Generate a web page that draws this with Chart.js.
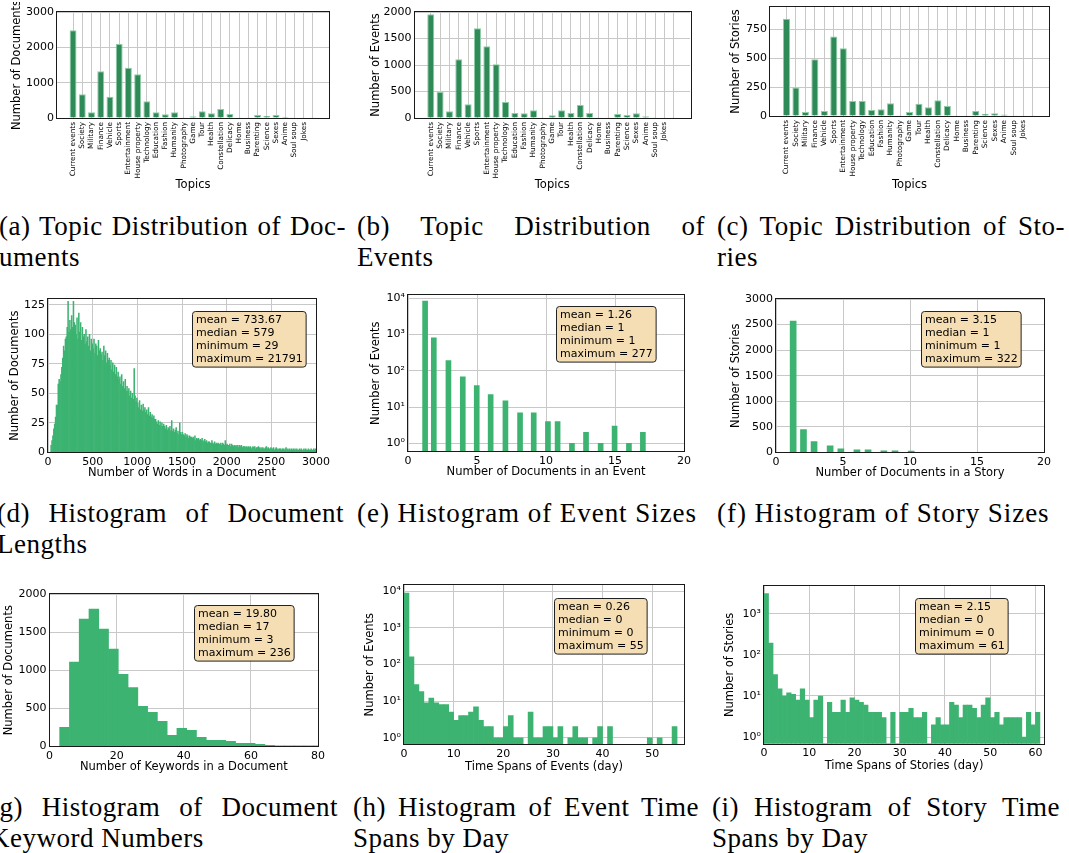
<!DOCTYPE html>
<html>
<head>
<meta charset="utf-8">
<script src="https://cdn.jsdelivr.net/npm/chart.js"></script>
<style>
  body { margin: 0; background: #fff; }
  #page { position: relative; width: 1069px; height: 853px; overflow: hidden; background: #fff; }
  canvas { position: absolute; }
  .cap { position: absolute; font-family: 'Liberation Serif', serif; font-size: 27px; letter-spacing: 0.5px; line-height: 31px; color: #000; }
  .cap .j { text-align: justify; text-align-last: justify; }
  .cap .l { white-space: nowrap; }
  .cap .wide { letter-spacing: 0.95px; }
</style>
</head>
<body>
<div id="page">
  <div class="cap" style="left:-1px; top:211px; width:347px"><div class="j">(a) Topic Distribution of Doc-</div><div class="l">uments</div></div>
  <div class="cap" style="left:357px; top:211px; width:348px"><div class="j">(b) Topic Distribution of</div><div class="l">Events</div></div>
  <div class="cap" style="left:717px; top:211px; width:348px"><div class="j">(c) Topic Distribution of Sto-</div><div class="l">ries</div></div>

  <div class="cap" style="left:-3px; top:498px; width:347px"><div class="j">(d) Histogram of Document</div><div class="l">Lengths</div></div>
  <div class="cap" style="left:357px; top:498px"><div class="l wide">(e) Histogram of Event Sizes</div></div>
  <div class="cap" style="left:717px; top:498px"><div class="l wide">(f) Histogram of Story Sizes</div></div>

  <div class="cap" style="left:-10px; top:792px; width:348px"><div class="j">(g) Histogram of Document</div><div class="l">Keyword Numbers</div></div>
  <div class="cap" style="left:353px; top:792px; width:346px"><div class="j">(h) Histogram of Event Time</div><div class="l">Spans by Day</div></div>
  <div class="cap" style="left:712px; top:792px; width:348px"><div class="j">(i) Histogram of Story Time</div><div class="l">Spans by Day</div></div>
</div>

<script>
// ---- data ----
const topics = ['Current events', 'Society', 'Military', 'Finance', 'Vehicle', 'Sports', 'Entertainment', 'House property',
    'Technology', 'Education', 'Fashion', 'Humanity', 'Photography', 'Game', 'Tour', 'Health', 'Constellation',
    'Delicacy', 'Home', 'Business', 'Parenting', 'Science', 'Sexes', 'Anime', 'Soul soup', 'Jokes', '']
const docsPerTopic = [2481, 670, 160, 1321, 604, 2094, 1425, 1236, 472, 160, 104, 160, 9, 47, 189, 132, 255, 113, 9, 9, 85, 66, 85, 38, 9, 19, 9]
const eventsPerTopic = [1956, 490, 126, 1107, 258, 1692, 1352, 1013, 302, 94, 88, 145, 6, 50, 145, 94, 245, 94, 6, 6, 75, 57, 88, 31, 6, 6, 6]
const storiesPerTopic = [845, 248, 35, 493, 43, 689, 588, 130, 130, 52, 58, 110, 6, 35, 107, 75, 136, 87, 6, 6, 43, 20, 23, 12, 6, 6, 6]

// document lengths, bins of 10 words starting at 30
const wordBinStart = 30
const wordBinWidth = 10
const wordCounts = [
    6, 10, 14, 20, 24, 30, 40,
    40, 58, 62, 60, 66, 72, 80, 90, 86, 96,
    98, 106, 128, 102, 112, 104, 116, 106, 128, 110,
    108, 100, 114, 96, 118, 102, 110, 95, 106, 98,
    100, 92, 104, 94, 98, 90, 100, 86, 96, 92,
    88, 96, 84, 92, 90, 82, 95, 86, 88, 83,
    85, 78, 90, 82, 86, 76, 84, 78, 80, 74,
    78, 70, 76, 68, 74, 66, 72, 64, 68, 62,
    64, 58, 66, 56, 60, 54, 62, 52, 56, 52,
    54, 48, 52, 46, 50, 45, 71, 48, 43, 46,
    42, 38, 44, 36, 40, 35, 41, 36, 38, 34,
    36, 32, 38, 31, 34, 30, 32, 29, 31, 28,
    28, 26, 24, 27, 23, 26, 22, 25, 22, 24,
    22, 20, 23, 19, 21, 20, 22, 18, 27, 18,
    20, 17, 19, 21, 16, 18, 15, 25, 17, 15,
    17, 15, 14, 16, 13, 15, 14, 12, 14, 13,
    13, 12, 13, 11, 14, 10, 12, 11, 12, 10,
    11, 10, 12, 10, 9, 11, 9, 10, 8, 9,
    9, 8, 8, 10, 8, 7, 9, 7, 8, 7,
    8, 7, 7, 8, 6, 8, 7, 6, 10, 6,
    7, 6, 6, 7, 5, 7, 6, 5, 6, 5,
    6, 5, 6, 4, 6, 5, 6, 4, 5, 5,
    5, 4, 5, 4, 5, 4, 5, 3, 4, 5,
    4, 5, 3, 4, 4, 5, 4, 3, 4, 3,
    4, 3, 3, 4, 5, 3, 4, 3, 3, 4,
    3, 3, 4, 2, 3, 4, 3, 2, 3, 3,
    3, 2, 3, 3, 2, 3, 4, 2, 3, 2,
    3, 2, 3, 2, 3, 2, 3, 2, 3, 2,
    2, 3, 2, 3, 2, 2, 3, 2, 3, 2,
    2, 3, 2, 2, 3, 2, 2, 3, 2, 3
]

// event sizes (bar centres as drawn) and counts
const eventSizeX = [1.24, 1.87, 2.93, 3.97, 4.98, 5.99, 7.06, 8.12, 9.11, 10.14, 10.84, 11.88, 12.90, 13.96, 14.97, 16.01, 17.02]
const eventSizeCounts = [8450, 810, 192, 68, 39, 22, 15, 7, 7, 4, 4, 1, 2, 1, 3, 1, 2]

// story sizes
const storySizeX = [1.28, 2.05, 2.84, 4.04, 4.84, 6.04, 6.87, 8.05, 8.88, 10.09]
const storySizeCounts = [2570, 445, 210, 130, 72, 50, 48, 30, 30, 28]

// keywords per document, 80 bins over [3, 236]
const kwBinStart = 3
const kwBinWidth = 2.9125
const kwCounts = [250, 1105, 1671, 1803, 1539, 1276, 947, 772, 526, 447, 329, 145, 237, 211, 118, 79, 79, 66, 39, 39, 26, 13, 5, 3, 2, 1, 1]

// time spans in days, 1-day bins from 0
const eventSpanCounts = [8800, 160, 28, 18, 9, 12, 9, 8, 8, 5, 3, 4, 4, 5, 7, 3, 2, 2, 1, 1,
    2, 4, 1, 1, 0, 5, 1, 1, 2, 2, 1, 2, 0, 1, 2, 1, 1, 0, 1, 2,
    0, 2, 0, 0, 0, 0, 0, 0, 0, 1, 0, 1, 0, 0, 2]
const storySpanCounts = [3100, 195, 33, 15, 10, 12, 11, 8, 15, 8, 3, 8, 10, 0, 7, 4, 4, 8, 4, 9,
    8, 7, 6, 4, 4, 4, 3, 0, 4, 0, 4, 4, 5, 3, 3, 4, 0, 2, 3, 2,
    2, 7, 6, 3, 6, 6, 5, 3, 6, 9, 3, 4, 2, 3, 3, 3, 3, 1, 4, 2, 4]

// tick positions and labels
const logTicks = [1, 10, 100, 1000, 10000]
const logLabels = ['10⁰', '10¹', '10²', '10³', '10⁴']
const docTopicTicks = [0, 1000, 2000, 3000]
const eventTopicTicks = [0, 500, 1000, 1500, 2000]
const storyTopicTicks = [0, 250, 500, 750]
const wordTicks = [0, 500, 1000, 1500, 2000, 2500, 3000]
const docLenTicks = [0, 25, 50, 75, 100, 125]
const sizeTicks = [0, 5, 10, 15, 20]
const storySizeTicks = [0, 500, 1000, 1500, 2000, 2500, 3000]
const kwTicks = [0, 20, 40, 60, 80]
const kwDocTicks = [0, 500, 1000, 1500, 2000]
const eventDayTicks = [0, 10, 20, 30, 40, 50]
const storyDayTicks = [0, 10, 20, 30, 40, 50, 60]

const docLenStats = ['mean = 733.67', 'median = 579', 'minimum = 29', 'maximum = 21791']
const eventSizeStats = ['mean = 1.26', 'median = 1', 'minimum = 1', 'maximum = 277']
const storySizeStats = ['mean = 3.15', 'median = 1', 'minimum = 1', 'maximum = 322']
const keywordStats = ['mean = 19.80', 'median = 17', 'minimum = 3', 'maximum = 236']
const eventSpanStats = ['mean = 0.26', 'median = 0', 'minimum = 0', 'maximum = 55']
const storySpanStats = ['mean = 2.15', 'median = 0', 'minimum = 0', 'maximum = 61']


// ---- layout: plot area of each panel on the page ----
const PAD_T = 10
const PAD_R = 22
const panels = {
    a: { L: 57, T: 12, R: 329, B: 118, yw: 47, xh: 74 },
    b: { L: 414, T: 12, R: 689, B: 118, yw: 45.5, xh: 74 },
    c: { L: 770, T: 7, R: 1049, B: 116, yw: 41, xh: 76 },
    d: { L: 48, T: 299, R: 316, B: 452, yw: 40, xh: 27.6, bx: 144.4, by: 12.4 },
    e: { L: 408, T: 295, R: 684, B: 451, yw: 39, xh: 27.6, bx: 148, by: 11 },
    f: { L: 776, T: 299, R: 1044, B: 452, yw: 47, xh: 27.6, bx: 144.7, by: 12.4 },
    g: { L: 50, T: 594, R: 318, B: 746, yw: 47.6, xh: 27.6, bx: 144.3, by: 11.3 },
    h: { L: 404, T: 585, R: 684, B: 744, yw: 41, xh: 29.6, bx: 150.3, by: 13.3 },
    i: { L: 764, T: 586, R: 1044, B: 744, yw: 41, xh: 29.3, bx: 151, by: 11.6 }
}

const FONT = 'DejaVu Sans'
const GRID = '#c8c8c8'
const TOPIC_GREEN = '#2e8b57'
const HIST_GREEN = '#3cb371'
const tickFont = { family: FONT, size: 11 }
const titleFont = { family: FONT, size: 11.5 }


// black frame round the plot area (all four spines)
const frame = {
    id: 'frame',
    afterDatasetsDraw(chart) {
        const { ctx, chartArea: a } = chart
        ctx.save()
        ctx.strokeStyle = '#1a1a1a'
        ctx.lineWidth = 1
        ctx.strokeRect(Math.round(a.left) - 0.5, Math.round(a.top) - 0.5, Math.round(a.right - a.left) + 1, Math.round(a.bottom - a.top) + 1)
        ctx.restore()
    }
}

// wheat coloured box with the summary numbers
const statBox = {
    id: 'statBox',
    afterDraw(chart, args, opts) {
        if (!opts.lines) return
        const { ctx, chartArea: a } = chart
        ctx.save()
        ctx.font = '11px "DejaVu Sans"'
        const lh = 12.9, padX = 3.5, padY = 2
        const w = Math.max(...opts.lines.map(t => ctx.measureText(t).width)) + 2 * padX
        const h = opts.lines.length * lh + 2 * padY
        const x = Math.round(a.left + opts.dx) + 0.5
        const y = Math.round(a.top + opts.dy) + 0.5
        ctx.beginPath()
        ctx.roundRect(x, y, w, h, 3)
        ctx.fillStyle = '#f5deb3'
        ctx.fill()
        ctx.strokeStyle = '#222'
        ctx.lineWidth = 1
        ctx.stroke()
        ctx.fillStyle = '#000'
        ctx.textBaseline = 'middle'
        opts.lines.forEach((t, i) => ctx.fillText(t, x + padX, y + padY + lh * (i + 0.5)))
        ctx.restore()
    }
}


const placeCanvas = (p) => {
    const c = document.createElement('canvas')
    const w = Math.round(p.yw + (p.R - p.L) + PAD_R)
    const h = Math.round(PAD_T + (p.B - p.T) + p.xh)
    c.width = w
    c.height = h
    c.style.left = (p.L - p.yw) + 'px'
    c.style.top = (p.T - PAD_T) + 'px'
    c.style.width = w + 'px'
    c.style.height = h + 'px'
    document.getElementById('page').appendChild(c)
    return c
}

const xAxis = (p, o) => ({
    type: 'linear',
    min: o.min,
    max: o.max,
    offset: false,
    grid: { color: GRID, drawTicks: false, offset: false },
    border: { display: false },
    ticks: {
        font: o.font || tickFont, color: '#000', padding: o.pad || 3,
        autoSkip: false, maxRotation: o.rot || 0, minRotation: o.rot || 0,
        callback: o.cb || (v => String(v))
    },
    title: { display: true, text: o.title, font: titleFont, color: '#000', padding: 0 },
    afterBuildTicks: s => { s.ticks = o.at.map(v => ({ value: v })) },
    afterFit: s => { s.height = p.xh }
})

const yAxis = (p, o) => ({
    type: o.log ? 'logarithmic' : 'linear',
    min: o.min,
    max: o.max,
    grid: { color: GRID, drawTicks: false },
    border: { display: false },
    ticks: {
        font: tickFont, color: '#000', padding: 3,
        callback: o.log ? (v => logLabels[logTicks.indexOf(v)]) : (v => String(v))
    },
    title: { display: true, text: o.title, font: titleFont, color: '#000', padding: 0 },
    afterBuildTicks: s => { s.ticks = o.at.filter(v => v >= s.min && v <= s.max).map(v => ({ value: v })) },
    afterFit: s => { s.width = p.yw }
})

const drawPanel = (p, dataset, x, y, stats) => {
    new Chart(placeCanvas(p), {
        type: 'bar',
        data: { datasets: [dataset] },
        options: {
            responsive: false,
            animation: false,
            devicePixelRatio: 1,
            layout: { padding: { left: 0, top: PAD_T, right: PAD_R, bottom: 0 } },
            plugins: {
                legend: { display: false },
                tooltip: { enabled: false },
                statBox: { lines: stats, dx: p.bx, dy: p.by }
            },
            scales: { x: xAxis(p, x), y: yAxis(p, y) }
        },
        plugins: [frame, statBox]
    })
}

const topicBars = (values) => ({
    data: values.map((v, i) => ({ x: i, y: v })),
    backgroundColor: TOPIC_GREEN,
    borderColor: '#8fcca6',
    borderWidth: 1,
    categoryPercentage: 1,
    barPercentage: 0.75
})

const histBars = (counts, start, width) => ({
    data: counts.map((c, i) => ({ x: start + (i + 0.5) * width, y: c })),
    backgroundColor: HIST_GREEN,
    borderWidth: 0,
    categoryPercentage: 1,
    barPercentage: 1
})

const pointBars = (xs, counts, thickness) => ({
    data: xs.map((x, i) => ({ x: x, y: counts[i] })),
    backgroundColor: HIST_GREEN,
    borderWidth: 0,
    barThickness: thickness
})

const topicX = {
    min: -1.74, max: 27.74, rot: 90, pad: 4,
    at: topics.map((t, i) => i),
    font: { family: FONT, size: 7.3 },
    cb: v => topics[v],
    title: 'Topics'
}


// ---- row 1: topic distributions ----
drawPanel(panels.a, topicBars(docsPerTopic), topicX,
    { min: 0, max: 3000, at: docTopicTicks, title: 'Number of Documents' })
drawPanel(panels.b, topicBars(eventsPerTopic), topicX,
    { min: 0, max: 2000, at: eventTopicTicks, title: 'Number of Events' })
drawPanel(panels.c, topicBars(storiesPerTopic), topicX,
    { min: 0, max: 946, at: storyTopicTicks, title: 'Number of Stories' })

// ---- row 2: sizes ----
drawPanel(panels.d, histBars(wordCounts, wordBinStart, wordBinWidth),
    { min: 0, max: 3000, at: wordTicks, title: 'Number of Words in a Document' },
    { min: 0, max: 130, at: docLenTicks, title: 'Number of Documents' }, docLenStats)
drawPanel(panels.e, pointBars(eventSizeX, eventSizeCounts, 5),
    { min: 0, max: 20, at: sizeTicks, title: 'Number of Documents in an Event' },
    { log: true, min: 0.64, max: 12360, at: logTicks, title: 'Number of Events' }, eventSizeStats)
drawPanel(panels.f, pointBars(storySizeX, storySizeCounts, 6),
    { min: 0, max: 20, at: sizeTicks, title: 'Number of Documents in a Story' },
    { min: 0, max: 3000, at: storySizeTicks, title: 'Number of Stories' }, storySizeStats)

// ---- row 3: keywords and time spans ----
drawPanel(panels.g, histBars(kwCounts, kwBinStart, kwBinWidth),
    { min: 0, max: 80, at: kwTicks, title: 'Number of Keywords in a Document' },
    { min: 0, max: 2000, at: kwDocTicks, title: 'Number of Documents' }, keywordStats)
drawPanel(panels.h, histBars(eventSpanCounts, 0, 1),
    { min: 0, max: 56.4, at: eventDayTicks, title: 'Time Spans of Events (day)' },
    { log: true, min: 0.658, max: 14590, at: logTicks, title: 'Number of Events' }, eventSpanStats)
drawPanel(panels.i, histBars(storySpanCounts, 0, 1),
    { min: 0, max: 61.9, at: storyDayTicks, title: 'Time Spans of Stories (day)' },
    { log: true, min: 0.69, max: 4750, at: logTicks, title: 'Number of Stories' }, storySpanStats)
</script>
</body>
</html>
